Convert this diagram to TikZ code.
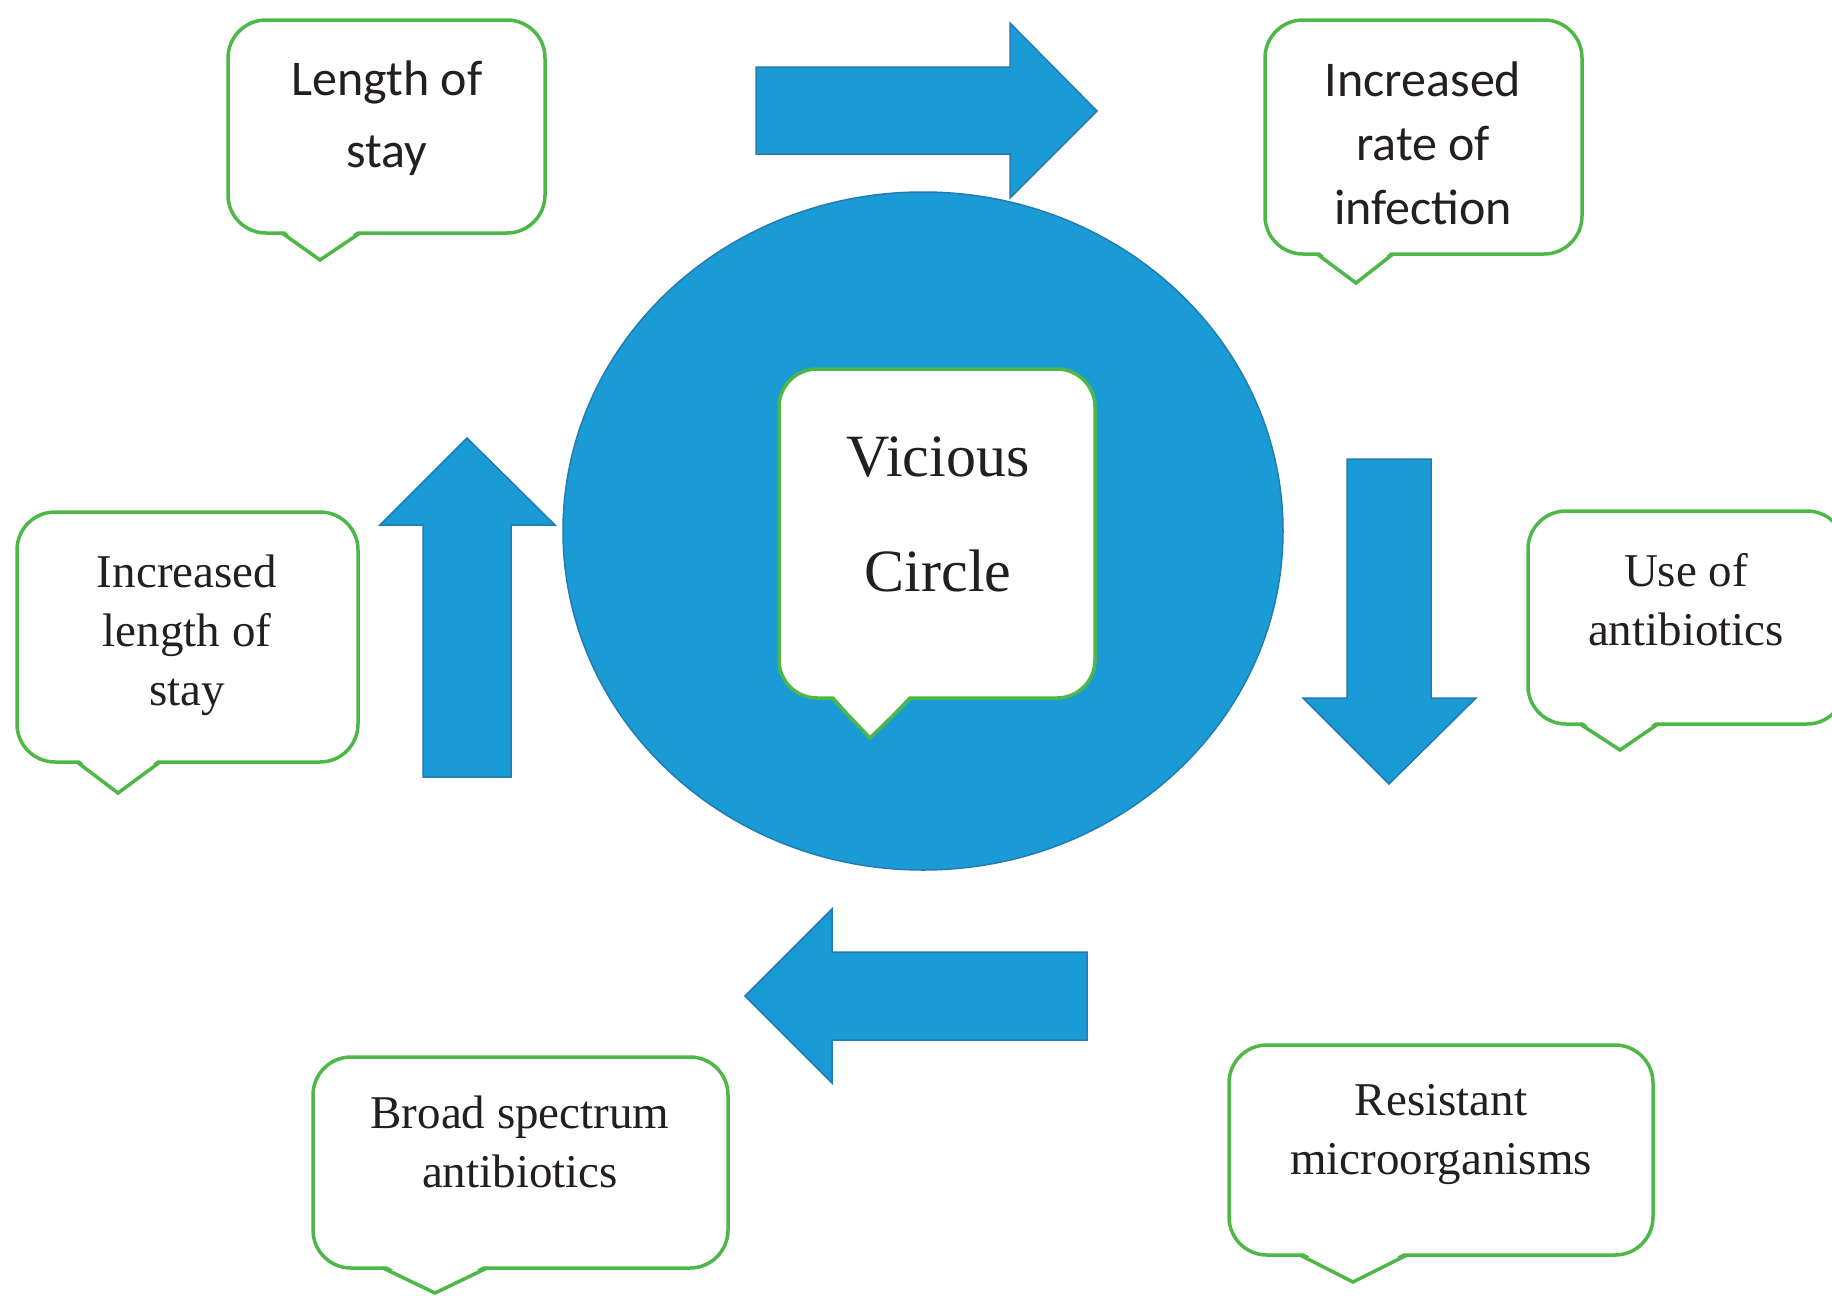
\documentclass[tikz,border=0pt]{standalone}
\usepackage{fontspec}
\setmainfont{Liberation Serif}
\newfontfamily\calibrifont{Carlito}
\usepackage{tikz}
\usetikzlibrary{shapes.geometric}
\usepackage{xcolor}

\definecolor{circleblue}{RGB}{26,155,214}
\definecolor{circleedge}{RGB}{34,124,178}
\definecolor{bubblegreen}{RGB}{77,184,72}
\definecolor{inkgray}{RGB}{35,31,32}

\tikzset{
  bubble/.style={draw=bubblegreen, line width=3.5pt, fill=white, rounded corners=38pt, inner sep=0pt},
  tail/.style={draw=bubblegreen, line width=3.5pt, line join=miter},
  serif/.style={text=inkgray, align=center, font=\fontsize{47}{59}\selectfont},
  sans/.style={text=inkgray, align=center, font=\calibrifont\fontsize{50}{64}\selectfont},
  blockarrow/.style={fill=circleblue, draw=circleedge, line width=1.5pt, line join=miter}
}

\begin{document}
\begin{tikzpicture}[x=1pt,y=-1pt]
		\useasboundingbox (0,0) rectangle (1832,1296);
		\clip (0,0) rectangle (1832,1296);
		
		% the big disc and the four block arrows round it
		\node[ellipse, minimum width=720pt, minimum height=678pt, fill=circleblue, draw=circleedge, line width=1.5pt] (disc) at (923,531) {};
		
		\draw[blockarrow] (756,67) -- (1010,67) -- (1010,23) -- (1097,111) -- (1010,198) -- (1010,154) -- (756,154) -- cycle;
		\draw[blockarrow] (1347,459) -- (1431,459) -- (1431,698) -- (1476,698) -- (1389,784) -- (1303,698) -- (1347,698) -- cycle;
		\draw[blockarrow] (1087,952) -- (832,952) -- (832,909) -- (745,996) -- (832,1083) -- (832,1040) -- (1087,1040) -- cycle;
		\draw[blockarrow] (423,777) -- (423,525) -- (380,525) -- (467,438) -- (555,525) -- (511,525) -- (511,777) -- cycle;
		
		% speech bubbles
		\node[bubble, minimum width=317pt, minimum height=213pt] (los) at (386.5,126.5) {};
		\node[bubble, minimum width=317pt, minimum height=234pt] (rate) at (1423.5,137) {};
		\node[bubble, minimum width=316pt, minimum height=329pt] (vc) at (937,533.5) {};
		\node[bubble, minimum width=317pt, minimum height=213pt] (use) at (1686.5,617.5) {};
		\node[bubble, minimum width=341pt, minimum height=250pt] (ils) at (187.5,637) {};
		\node[bubble, minimum width=415pt, minimum height=211pt] (bsa) at (520.5,1162.5) {};
		\node[bubble, minimum width=424pt, minimum height=210pt] (rm) at (1441,1150) {};
		
		% bubble tails
		\fill[white] (282,229) -- (320,260) -- (360,229) -- cycle;
		\draw[tail] (282,233) -- (320,260) -- (360,233);
		\fill[white] (1317,250) -- (1356,283) -- (1393,250) -- cycle;
		\draw[tail] (1317,254) -- (1356,283) -- (1393,254);
		\fill[white] (832,694) -- (870,738) -- (911,694) -- cycle;
		\draw[tail] (832,698) -- (870,738) -- (911,698);
		\fill[white] (1580,720) -- (1620,750) -- (1658,720) -- cycle;
		\draw[tail] (1580,724) -- (1620,750) -- (1658,724);
		\fill[white] (77,758) -- (118,793) -- (160,758) -- cycle;
		\draw[tail] (77,762) -- (118,793) -- (160,762);
		\fill[white] (383,1264) -- (435,1293) -- (487,1264) -- cycle;
		\draw[tail] (383,1268) -- (435,1293) -- (487,1268);
		\fill[white] (1300,1251) -- (1353,1282) -- (1407,1251) -- cycle;
		\draw[tail] (1300,1255) -- (1353,1282) -- (1407,1255);
		
		% texts
		\node[sans] (lostext) at (387,118) {Length of\\[8pt]stay};
		\node[sans] (ratetext) at (1423,143) {Increased\\rate of\\infection};
		\node[serif, font=\fontsize{60}{115}\selectfont] (vctext) at (938,514) {Vicious\\Circle};
		\node[serif] (usetext) at (1686,600) {Use of\\antibiotics};
		\node[serif] (ilstext) at (187,635) {Increased\\length of\\stay};
		\node[serif] (bsatext) at (520,1142) {Broad spectrum\\antibiotics};
		\node[serif] (rmtext) at (1441,1134) {Resistant\\microorganisms};
		\end{tikzpicture}
\end{document}
